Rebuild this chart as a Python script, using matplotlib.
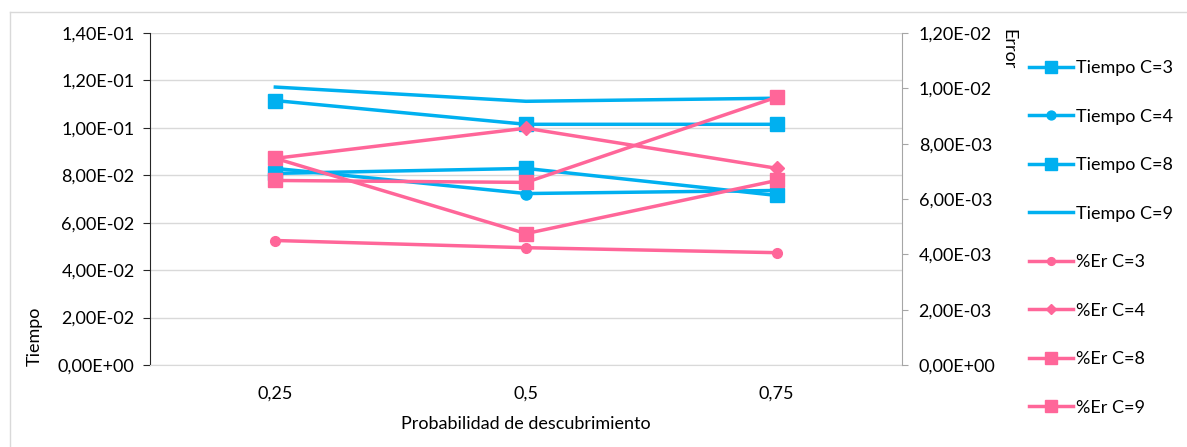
import numpy as np
import matplotlib
matplotlib.use("Agg")
from matplotlib import pyplot as plt
from matplotlib.lines import Line2D
from matplotlib.ticker import FuncFormatter

plt.rcParams['font.family'] = ['Lato', 'DejaVu Sans']

# datos
probabilidad = ['0,25', '0,5', '0,75']
tiempo_c3 = [0.1115, 0.1015, 0.1015]
tiempo_c4 = [0.0829, 0.0723, 0.0736]
tiempo_c8 = [0.0808, 0.0829, 0.0715]
tiempo_c9 = [0.1172, 0.1112, 0.1125]
error_c3 = [0.00450, 0.00424, 0.00406]
error_c4 = [0.00747, 0.00856, 0.00711]
error_c8 = [0.00747, 0.00475, 0.00667]
error_c9 = [0.00667, 0.00660, 0.00968]

azul = '#00B0F0'
rosa = '#FF6699'
fs = 13


def excel_fmt(v, pos):
    return ('%.2E' % v).replace('.', ',')


fig = plt.figure(figsize=(11.87, 4.47), dpi=100)
ax = fig.add_axes([150 / 1187, 1 - 365 / 447, 752 / 1187, 332 / 447])
ax2 = ax.twinx()

x = np.arange(len(probabilidad))
lw = 2.5

l1, = ax.plot(x, tiempo_c3, color=azul, lw=lw, marker='s', ms=10, label='Tiempo C=3')
l2, = ax.plot(x, tiempo_c4, color=azul, lw=lw, marker='o', ms=8, label='Tiempo C=4')
l3, = ax.plot(x, tiempo_c8, color=azul, lw=lw, marker='s', ms=10, label='Tiempo C=8')
l4, = ax.plot(x, tiempo_c9, color=azul, lw=lw, label='Tiempo C=9')

l5, = ax2.plot(x, error_c3, color=rosa, lw=lw, marker='o', ms=7, label='%Er C=3')
l6, = ax2.plot(x, error_c4, color=rosa, lw=lw, marker='D', ms=7, label='%Er C=4')
l7, = ax2.plot(x, error_c8, color=rosa, lw=lw, marker='s', ms=10, label='%Er C=8')
l8, = ax2.plot(x, error_c9, color=rosa, lw=lw, marker='s', ms=10, label='%Er C=9')

ax.set_xlim(-0.5, 2.5)
ax.set_ylim(0, 0.14)
ax2.set_ylim(0, 0.012)
ax.set_yticks(np.arange(0, 0.1401, 0.02))
ax2.set_yticks(np.arange(0, 0.01201, 0.002))
ax.yaxis.set_major_formatter(FuncFormatter(excel_fmt))
ax2.yaxis.set_major_formatter(FuncFormatter(excel_fmt))
ax.set_xticks(x)
ax.set_xticklabels(probabilidad)

ax.grid(axis='y', color='#D9D9D9', lw=1)
ax.set_axisbelow(True)

for a in (ax, ax2):
    a.spines['top'].set_visible(False)
ax.spines['right'].set_visible(False)
ax.spines['left'].set_color('#262626')
ax.spines['bottom'].set_color('#D9D9D9')
ax2.spines['left'].set_visible(False)
ax2.spines['bottom'].set_visible(False)
ax2.spines['right'].set_color('#A6A6A6')

ax.tick_params(axis='y', length=5, color='#262626', labelsize=fs, pad=6)
ax.tick_params(axis='x', length=0, labelsize=fs, pad=15)
ax2.tick_params(axis='y', length=4, color='#A6A6A6', labelsize=fs, pad=8)

ax.set_xlabel('Probabilidad de descubrimiento', fontsize=fs, labelpad=10)
fig.text(35 / 1187, 1 - 336 / 447, 'Tiempo', rotation=90, fontsize=fs,
         ha='center', va='center')
fig.text(1008 / 1187, 1 - 49 / 447, 'Error', rotation=270, fontsize=fs,
         ha='center', va='center')

handles = [l1, l2, l3, l4, l5, l6, l7, l8]
fig.legend(handles=handles, labels=[h.get_label() for h in handles],
           loc='upper left', bbox_to_anchor=(1022 / 1187, 1 - 53 / 447),
           frameon=False, fontsize=fs, handlelength=2.45, handletextpad=0.15,
           labelspacing=1.8, borderaxespad=0, markerscale=0.8)

# borde del area del grafico
fig.add_artist(Line2D([10 / 1187, 1], [1 - 12 / 447, 1 - 12 / 447],
                      color='#D9D9D9', lw=1, transform=fig.transFigure))
fig.add_artist(Line2D([10 / 1187, 10 / 1187], [0, 1 - 12 / 447],
                      color='#D9D9D9', lw=1, transform=fig.transFigure))

fig.savefig('out.png', dpi=100)
